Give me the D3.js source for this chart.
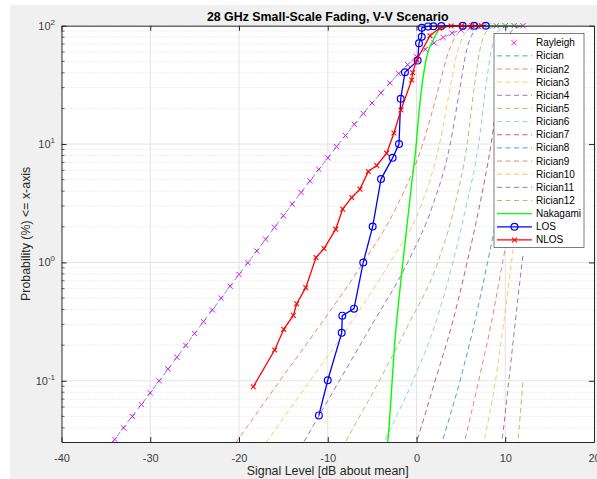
<!DOCTYPE html>
<html>
<head>
<meta charset="utf-8">
<script src="https://cdn.jsdelivr.net/npm/d3@7/dist/d3.min.js"></script>
<style>
  body { margin: 0; background: #fff; }
  text { font-family: "Liberation Sans", Arial, sans-serif; }
</style>
</head>
<body>
<svg id="chart" width="597" height="479"></svg>
<script>
// valeurs
var rayleighX = [-34,-33,-32,-31,-30,-29,-28,-27,-26,-25,-24,-23,-22,-21,-20,-19,-18,-17,-16,-15,-14,-13,-12,-11,-10,-9,-8,-7,-6,-5,-4,-3,-2,-1,0,1,2,3,4,5,6,7,8,9,10,11,12];
var rayleighP = [0.032,0.040,0.050,0.063,0.079,0.100,0.126,0.158,0.199,0.251,0.316,0.397,0.500,0.629,0.791,0.995,1.25,1.57,1.98,2.48,3.11,3.90,4.89,6.12,7.64,9.52,11.8,14.7,18.1,22.2,27.1,32.8,39.4,46.8,54.8,63.2,71.6,79.5,86.4,91.9,95.8,98.1,99.3,99.8,99.96,100,100];

// courbes de Rice (x en dB, p en %), calculées jusqu'à 12 dB
var rician1 = [[-36,0.020],[-35,0.025],[-34,0.032],[-30,0.079],[-25,0.251],[-20,0.791],[-15,2.48],[-10,7.64],[-6,18.1],[-3,32.8],[0,54.8],[2,71.6],[4,86.4],[6,95.8],[8,99.3],[10,99.96],[12,100]];
var rician2 = [[-22.0,0.02],[-20.3,0.0304],[-15.4,0.1],[-10.8,0.3],[-6.0,1],[-2.2,3],[0.7,10],[2.5,30],[3.6,60],[4.6,85],[5.5,95],[6.6,99],[8,99.9],[9.5,99.99],[12,100]];
var rician3 = [[-18.6,0.02],[-16.9,0.0304],[-12.0,0.1],[-7.5,0.3],[-3.0,1],[0.5,3],[2.6,10],[3.8,30],[4.6,60],[5.4,85],[6.2,95],[7.2,99],[8.5,99.9],[10,99.99],[12,100]];
var rician4 = [[-14.1,0.02],[-12.7,0.0304],[-8.7,0.1],[-5.0,0.3],[-1.0,1],[1.8,3],[3.8,10],[4.9,30],[5.6,60],[6.3,85],[7.0,95],[7.9,99],[9.1,99.9],[10.5,99.99],[12,100]];
var rician5 = [[-9.3,0.02],[-8.0,0.0304],[-4.2,0.1],[-0.9,0.3],[2.4,1],[4.3,3],[5.7,10],[6.5,30],[7.1,60],[7.7,85],[8.3,95],[9.1,99],[10.2,99.9],[11.5,99.99],[12,100]];
var rician6 = [[-4.6,0.02],[-3.6,0.0304],[-0.4,0.1],[2.1,0.3],[4.1,1],[5.6,3],[7.0,10],[7.8,30],[8.4,60],[9.0,85],[9.6,95],[10.4,99],[11.4,99.9],[12,99.97]];
var rician7 = [[-0.8,0.02],[0,0.0304],[2.1,0.1],[4.0,0.3],[5.7,1],[7.1,3],[8.4,10],[9.3,30],[9.9,60],[10.5,85],[11.1,95],[12,99]];
var rician8 = [[2.2,0.02],[2.9,0.0304],[4.9,0.1],[6.5,0.3],[8.0,1],[9.3,3],[10.5,10],[11.3,30],[12,58]];
var rician9 = [[4.8,0.02],[5.4,0.0304],[7.0,0.1],[8.4,0.3],[9.7,1],[10.9,3],[12,9]];
var rician10 = [[7.1,0.02],[7.6,0.0304],[8.9,0.1],[9.8,0.3],[10.7,1],[11.5,3],[12,5.5]];
var rician11 = [[9.2,0.02],[9.6,0.0304],[10.4,0.1],[11.1,0.3],[11.9,1],[12,1.15]];
var rician12 = [[11.1,0.02],[11.4,0.0304],[12,0.1]];

var nakagami = [[-3.35,0.025],[-3.18,0.034],[-2.42,0.223],[-1.67,0.81],[-0.54,4.68],[-0.09,8.93],[0.2,16],[0.7,34.8],[1.15,54.7],[1.89,75.7],[2.4,90],[2.84,97.8],[3.5,99.7],[4.5,99.99],[6,100],[12,100]];

var losX = [-11.0,-10.0,-8.43,-8.36,-7.04,-6.0,-4.94,-4.0,-2.69,-1.97,-1.78,-1.30,0.13,0.28,0.59,0.6,1.3,1.9,2.8,5.2,6.5,7.8];
var losP = [0.051,0.101,0.254,0.355,0.407,1.0,2.01,5.06,7.65,10.0,24.1,40.4,50.7,71.0,80.7,96,98.6,99,99.4,100,100,100];

var nlosX = [-18.39,-15.98,-14.96,-13.88,-13.5,-12.48,-11.32,-10.42,-9.10,-8.32,-7.30,-6.37,-5.43,-4.48,-3.36,-2.54,-1.75,-0.54,-0.43,0.02,1.52,2.57,3.9,5.1,6.25,7.3];
var nlosP = [0.089,0.182,0.272,0.357,0.448,0.612,1.10,1.31,1.91,2.82,3.54,4.16,5.86,6.59,8.38,12.4,19.4,34.8,40.1,51.4,82.3,95.1,99.5,100,100,100];

var xTicks = [-40,-30,-20,-10,0,10,20];
var yTicks = [0.1,1,10,100];
var yExp = ["-1","0","1","2"];

var matlabColors = ["#0072BD","#D95319","#EDB120","#7E2F8E","#77AC30","#4DBEEE","#A2142F"];

var svg = d3.select("#chart");

// fond gris de la figure
svg.append("rect").attr("x", 10).attr("y", 5).attr("width", 587).attr("height", 474).attr("fill", "#f0f0f0");

var x = d3.scaleLinear().domain([-40, 20]).range([61.5, 594]);
var y = d3.scaleLog().domain([0.0304, 100]).range([442, 25.7]);

var pLeft = x.range()[0], pRight = x.range()[1], pTop = y.range()[1], pBottom = y.range()[0];

svg.append("rect").attr("x", pLeft).attr("y", pTop).attr("width", pRight - pLeft).attr("height", pBottom - pTop).attr("fill", "#fff");

svg.append("clipPath").attr("id", "clip")
  .append("rect").attr("x", pLeft).attr("y", pTop - 4).attr("width", pRight - pLeft).attr("height", pBottom - pTop + 4);

// grille
var minorY = [];
[0.01, 0.1, 1, 10].forEach(function (d) {
  for (var k = 2; k <= 9; k++) {
    var v = d * k;
    if (v > y.domain()[0] && v < 100) minorY.push(v);
  }
});

var grid = svg.append("g");
grid.selectAll(".minor").data(minorY).enter().append("line")
  .attr("x1", pLeft).attr("x2", pRight)
  .attr("y1", function (d) { return y(d); }).attr("y2", function (d) { return y(d); })
  .attr("stroke", "#c8c8c8").attr("stroke-width", 0.6).attr("stroke-dasharray", "1,2");
grid.selectAll(".majorY").data([0.1, 1, 10]).enter().append("line")
  .attr("x1", pLeft).attr("x2", pRight)
  .attr("y1", function (d) { return y(d); }).attr("y2", function (d) { return y(d); })
  .attr("stroke", "#e3e3e3").attr("stroke-width", 1);
grid.selectAll(".majorX").data([-30, -20, -10, 0, 10]).enter().append("line")
  .attr("y1", pTop).attr("y2", pBottom)
  .attr("x1", function (d) { return x(d); }).attr("x2", function (d) { return x(d); })
  .attr("stroke", "#e3e3e3").attr("stroke-width", 1);

var plot = svg.append("g").attr("clip-path", "url(#clip)");

var line = d3.line()
  .x(function (d) { return x(d[0]); })
  .y(function (d) { return y(d[1]); })
  .curve(d3.curveMonotoneX);

var rayleigh = rayleighX.map(function (v, i) { return [v, rayleighP[i]]; });
var ricians = [rician1, rician2, rician3, rician4, rician5, rician6, rician7, rician8, rician9, rician10, rician11, rician12];

// marqueurs en croix
function drawX(g, pts, color, s, w) {
  g.selectAll(null).data(pts).enter().append("path")
    .attr("d", function (d) {
      var cx = x(d[0]), cy = y(d[1]);
      return "M" + (cx - s) + "," + (cy - s) + "L" + (cx + s) + "," + (cy + s) +
             "M" + (cx - s) + "," + (cy + s) + "L" + (cx + s) + "," + (cy - s);
    })
    .attr("stroke", color).attr("stroke-width", w).attr("fill", "none");
}

drawX(plot, rayleigh, "#ff00ff", 2.6, 1);

ricians.forEach(function (c, i) {
  plot.append("path").datum(c)
    .attr("d", line)
    .attr("fill", "none")
    .attr("stroke", matlabColors[i % 7])
    .attr("stroke-opacity", 0.75)
    .attr("stroke-width", 0.9)
    .attr("stroke-dasharray", "5,3.5");
});

plot.append("path").datum(nakagami)
  .attr("d", line).attr("fill", "none").attr("stroke", "#00ff00").attr("stroke-width", 1.4);

var los = losX.map(function (v, i) { return [v, losP[i]]; });
var nlos = nlosX.map(function (v, i) { return [v, nlosP[i]]; });

plot.append("path").datum(los)
  .attr("d", d3.line().x(function (d) { return x(d[0]); }).y(function (d) { return y(d[1]); }))
  .attr("fill", "none").attr("stroke", "#0000ff").attr("stroke-width", 1.3);
plot.selectAll(".los").data(los).enter().append("circle")
  .attr("cx", function (d) { return x(d[0]); }).attr("cy", function (d) { return y(d[1]); })
  .attr("r", 3.4).attr("fill", "none").attr("stroke", "#0000ff").attr("stroke-width", 1.2);

plot.append("path").datum(nlos)
  .attr("d", d3.line().x(function (d) { return x(d[0]); }).y(function (d) { return y(d[1]); }))
  .attr("fill", "none").attr("stroke", "#ff0000").attr("stroke-width", 1.3);
drawX(plot, nlos, "#ff0000", 2.4, 1.1);

// axes
var axisColor = "#262626";
var xAxis = svg.append("g").attr("transform", "translate(0," + pBottom + ")")
  .call(d3.axisBottom(x).tickValues(xTicks).tickSizeInner(-5).tickSizeOuter(0).tickPadding(12).tickFormat(d3.format("d")));
xAxis.select(".domain").attr("stroke", axisColor);
xAxis.selectAll("line").attr("stroke", axisColor);
xAxis.selectAll("text").attr("font-size", 11).attr("fill", "#404040").attr("font-family", "Liberation Sans, Arial, sans-serif").text(function (d) { return d; });

var xTop = svg.append("g").attr("transform", "translate(0," + pTop + ")")
  .call(d3.axisTop(x).tickValues(xTicks).tickSizeInner(-5).tickSizeOuter(0).tickFormat(""));
xTop.select(".domain").attr("stroke", axisColor);
xTop.selectAll("line").attr("stroke", axisColor);

var yAxis = svg.append("g").attr("transform", "translate(" + pLeft + ",0)")
  .call(d3.axisLeft(y).tickValues(yTicks).tickSizeInner(-5).tickSizeOuter(0).tickFormat(""));
yAxis.select(".domain").attr("stroke", axisColor);
yAxis.selectAll("line").attr("stroke", axisColor);
var yRight = svg.append("g").attr("transform", "translate(" + pRight + ",0)")
  .call(d3.axisRight(y).tickValues(yTicks).tickSizeInner(-5).tickSizeOuter(0).tickFormat(""));
yRight.select(".domain").attr("stroke", axisColor);
yRight.selectAll("line").attr("stroke", axisColor);

// petites graduations
svg.append("g").selectAll("line").data(minorY).enter().append("line")
  .attr("x1", pLeft).attr("x2", pLeft + 3)
  .attr("y1", function (d) { return y(d); }).attr("y2", function (d) { return y(d); })
  .attr("stroke", axisColor).attr("stroke-width", 0.7);

// étiquettes 10^n
var yLab = svg.append("g");
yTicks.forEach(function (v, i) {
  var t = yLab.append("text")
    .attr("x", 55).attr("y", y(v) + 4)
    .attr("text-anchor", "end")
    .attr("font-size", 11).attr("fill", "#404040");
  t.append("tspan").text("10");
  t.append("tspan").attr("dy", -5).attr("font-size", 8).text(yExp[i]);
});

// titres
svg.append("text").attr("x", (pLeft + pRight) / 2).attr("y", 21)
  .attr("text-anchor", "middle").attr("font-size", 12.4).attr("font-weight", "bold").attr("fill", "#000")
  .text("28 GHz Small-Scale Fading, V-V Scenario");
svg.append("text").attr("x", (pLeft + pRight) / 2).attr("y", 475)
  .attr("text-anchor", "middle").attr("font-size", 12.4).attr("fill", "#262626")
  .text("Signal Level [dB about mean]");
svg.append("text").attr("transform", "translate(30," + ((pTop + pBottom) / 2) + ") rotate(-90)")
  .attr("text-anchor", "middle").attr("font-size", 12.4).attr("fill", "#262626")
  .text("Probability (%) <= x-axis");

// légende
var legendNames = ["Rayleigh", "Rician", "Rician2", "Rician3", "Rician4", "Rician5", "Rician6", "Rician7", "Rician8", "Rician9", "Rician10", "Rician11", "Rician12", "Nakagami", "LOS", "NLOS"];
var lg = svg.append("g");
lg.append("rect").attr("x", 494).attr("y", 33.3).attr("width", 90).attr("height", 214)
  .attr("fill", "#fff").attr("stroke", "#262626").attr("stroke-width", 0.6);

var items = lg.selectAll(".legend").data(legendNames).enter().append("g")
  .attr("class", "legend")
  .attr("transform", function (d, i) { return "translate(0," + (42.7 + i * 13.15) + ")"; });

items.each(function (d, i) {
  var g = d3.select(this);
  if (i === 0) {
    g.append("path").attr("d", "M511.5,-2.5L516.5,2.5M511.5,2.5L516.5,-2.5").attr("stroke", "#ff00ff").attr("stroke-width", 1);
  } else if (i <= 12) {
    g.append("line").attr("x1", 497).attr("x2", 532).attr("y1", 0).attr("y2", 0)
      .attr("stroke", matlabColors[(i - 1) % 7]).attr("stroke-opacity", 0.75)
      .attr("stroke-width", 0.9).attr("stroke-dasharray", "5,3.5");
  } else if (i === 13) {
    g.append("line").attr("x1", 497).attr("x2", 532).attr("y1", 0).attr("y2", 0)
      .attr("stroke", "#00ff00").attr("stroke-width", 1.4);
  } else if (i === 14) {
    g.append("line").attr("x1", 497).attr("x2", 532).attr("y1", 0).attr("y2", 0)
      .attr("stroke", "#0000ff").attr("stroke-width", 1.3);
    g.append("circle").attr("cx", 514.5).attr("cy", 0).attr("r", 3.4)
      .attr("fill", "none").attr("stroke", "#0000ff").attr("stroke-width", 1.2);
  } else {
    g.append("line").attr("x1", 497).attr("x2", 532).attr("y1", 0).attr("y2", 0)
      .attr("stroke", "#ff0000").attr("stroke-width", 1.3);
    g.append("path").attr("d", "M512,-2.4L517,2.4M512,2.4L517,-2.4").attr("stroke", "#ff0000").attr("stroke-width", 1.1);
  }
  g.append("text").attr("x", 536).attr("y", 3.5).attr("font-size", 10).attr("fill", "#000").text(d);
});
</script>
</body>
</html>
